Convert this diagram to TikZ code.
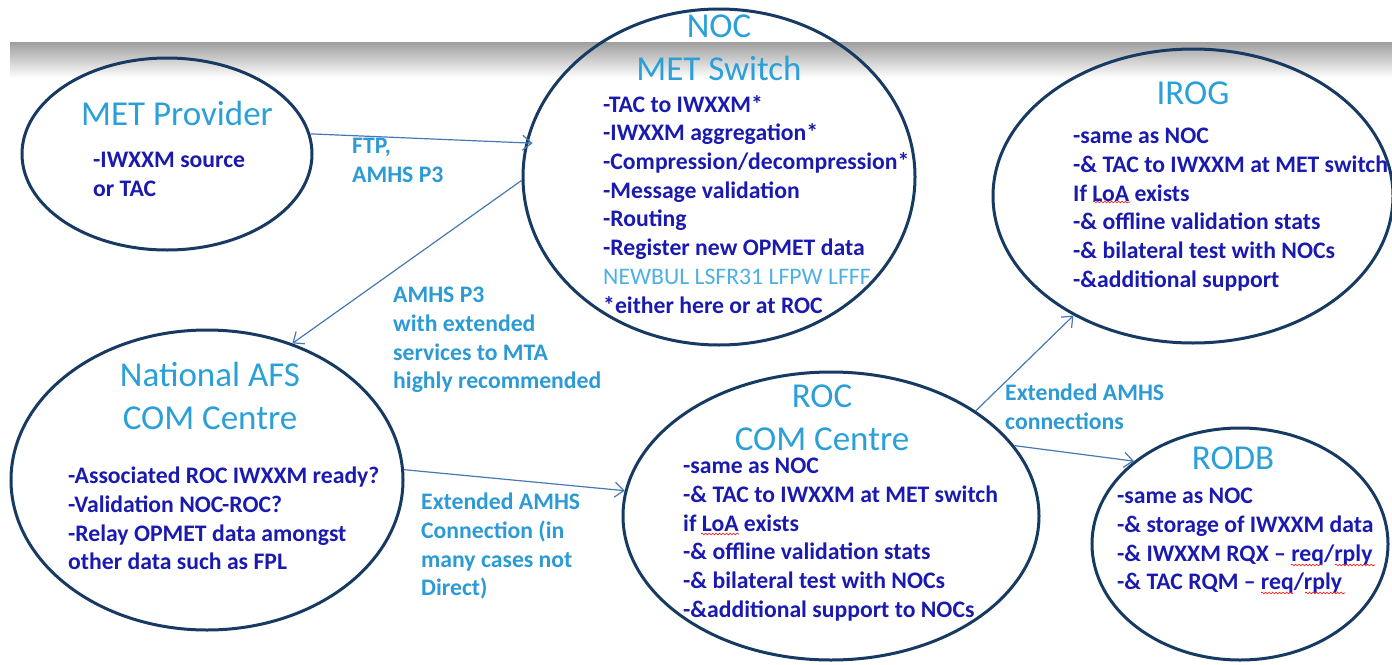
\documentclass[tikz,border=0pt]{standalone}
\usepackage{fontspec}
\setmainfont{Carlito}
\usepackage{xcolor}
\usepackage{tikz}
\usetikzlibrary{shapes.geometric,arrows.meta,decorations.pathmorphing}

\definecolor{titleblue}{HTML}{2BA0D8}
\definecolor{textblue}{HTML}{1A1AAE}
\definecolor{labelblue}{HTML}{2C9AD4}
\definecolor{codeblue}{HTML}{4DB0E2}
\definecolor{ringblue}{HTML}{173A63}
\definecolor{arrowblue}{HTML}{4678B4}

\begin{document}
\begin{tikzpicture}[x=1pt,y=-1pt,
    ring/.style={ellipse, draw=ringblue, line width=3pt, inner sep=0pt},
    title/.style={align=center, text=titleblue, inner sep=0pt, font=\fontsize{35}{43}\selectfont},
    body/.style={anchor=north west, align=left, inner sep=0pt, text=textblue, font=\bfseries\fontsize{23.7}{28.7}\selectfont},
    lbl/.style={anchor=north west, align=left, inner sep=0pt, text=labelblue, font=\bfseries\fontsize{23.7}{28.7}\selectfont},
    link/.style={draw=arrowblue, line width=1.2pt, -{Straight Barb[length=9pt,width=15pt]}},
    wave/.style={draw=red, line width=0.6pt, decorate, decoration={snake, amplitude=0.9pt, segment length=3.5pt}}]
\useasboundingbox (0,0) rectangle (1392,664);

% grey band
\shade[top color=black!38, bottom color=white] (10,42) rectangle (1392,78);

% the six centres
\node[ring, minimum width=290pt, minimum height=192pt] (prov) at (167,154) {};
\node[ring, minimum width=392pt, minimum height=336pt] (noc) at (719,177) {};
\node[ring, minimum width=400pt, minimum height=294pt] (irog) at (1193,196) {};
\node[ring, minimum width=392pt, minimum height=300pt] (afs) at (207,480) {};
\node[ring, minimum width=416pt, minimum height=288pt] (roc) at (831,516) {};
\node[ring, minimum width=296pt, minimum height=232pt] (rodb) at (1240,544) {};

% titles
\node[title] (provT) at (177,113) {MET Provider};
\node[title] (nocT) at (719,48) {NOC\\MET Switch};
\node[title] (irogT) at (1193,93) {IROG};
\node[title] (afsT) at (210,396) {National AFS\\COM Centre};
\node[title] (rocT) at (822,418) {ROC\\COM Centre};
\node[title] (rodbT) at (1233,458) {RODB};

% contents
\node[body] (provB) at (93,152) {-IWXXM source\\or TAC};
\node[body] (nocB) at (603,95) {-TAC to IWXXM*\\-IWXXM aggregation*\\-Compression/decompression*\\-Message validation\\-Routing\\-Register new OPMET data\\{\mdseries\color{codeblue}NEWBUL LSFR31 LFPW LFFF}\\*either here or at ROC};
\node[body] (irogB) at (1073,128) {-same as NOC\\-\& TAC to IWXXM at MET switch\\If LoA exists\\-\& offline validation stats\\-\& bilateral test with NOCs\\-\&additional support};
\node[body] (afsB) at (68,467) {-Associated ROC IWXXM ready?\\-Validation NOC-ROC?\\-Relay OPMET data amongst\\other data such as FPL};
\node[body] (rocB) at (683,458) {-same as NOC\\-\& TAC to IWXXM at MET switch\\if LoA exists\\-\& offline validation stats\\-\& bilateral test with NOCs\\-\&additional support to NOCs};
\node[body] (rodbB) at (1117,488) {-same as NOC\\-\& storage of IWXXM data\\-\& IWXXM RQX -- req/rply\\-\& TAC RQM -- req/rply};

% spell-check waves
\draw[wave] (1093,202) -- (1130,202);
\draw[wave] (701,534) -- (739,534);
\draw[wave] (1291,565) -- (1322,565);
\draw[wave] (1335,565) -- (1375,565);
\draw[wave] (1261,593) -- (1293,593);
\draw[wave] (1305,593) -- (1345,593);

% links
\draw[link, shorten >=-7pt] (prov.8.5) -- (noc.170.7);
\draw[link] (noc.181) -- (afs.58.2);
\draw[link] (afs.3.5) -- (roc.173.7);
\draw[link] (roc.36.2) -- (irog.225);
\draw[link] (roc.21.2) -- (rodb.142.4);

\node[lbl] (ftp) at (352,138) {FTP,\\AMHS P3};
\node[lbl] (p3) at (393,287) {AMHS P3\\with extended\\services to MTA\\highly recommended};
\node[lbl] (ext) at (421,493) {Extended AMHS\\Connection (in\\many cases not\\Direct)};
\node[lbl] (extc) at (1005,384) {Extended AMHS\\connections};
\end{tikzpicture}
\end{document}
